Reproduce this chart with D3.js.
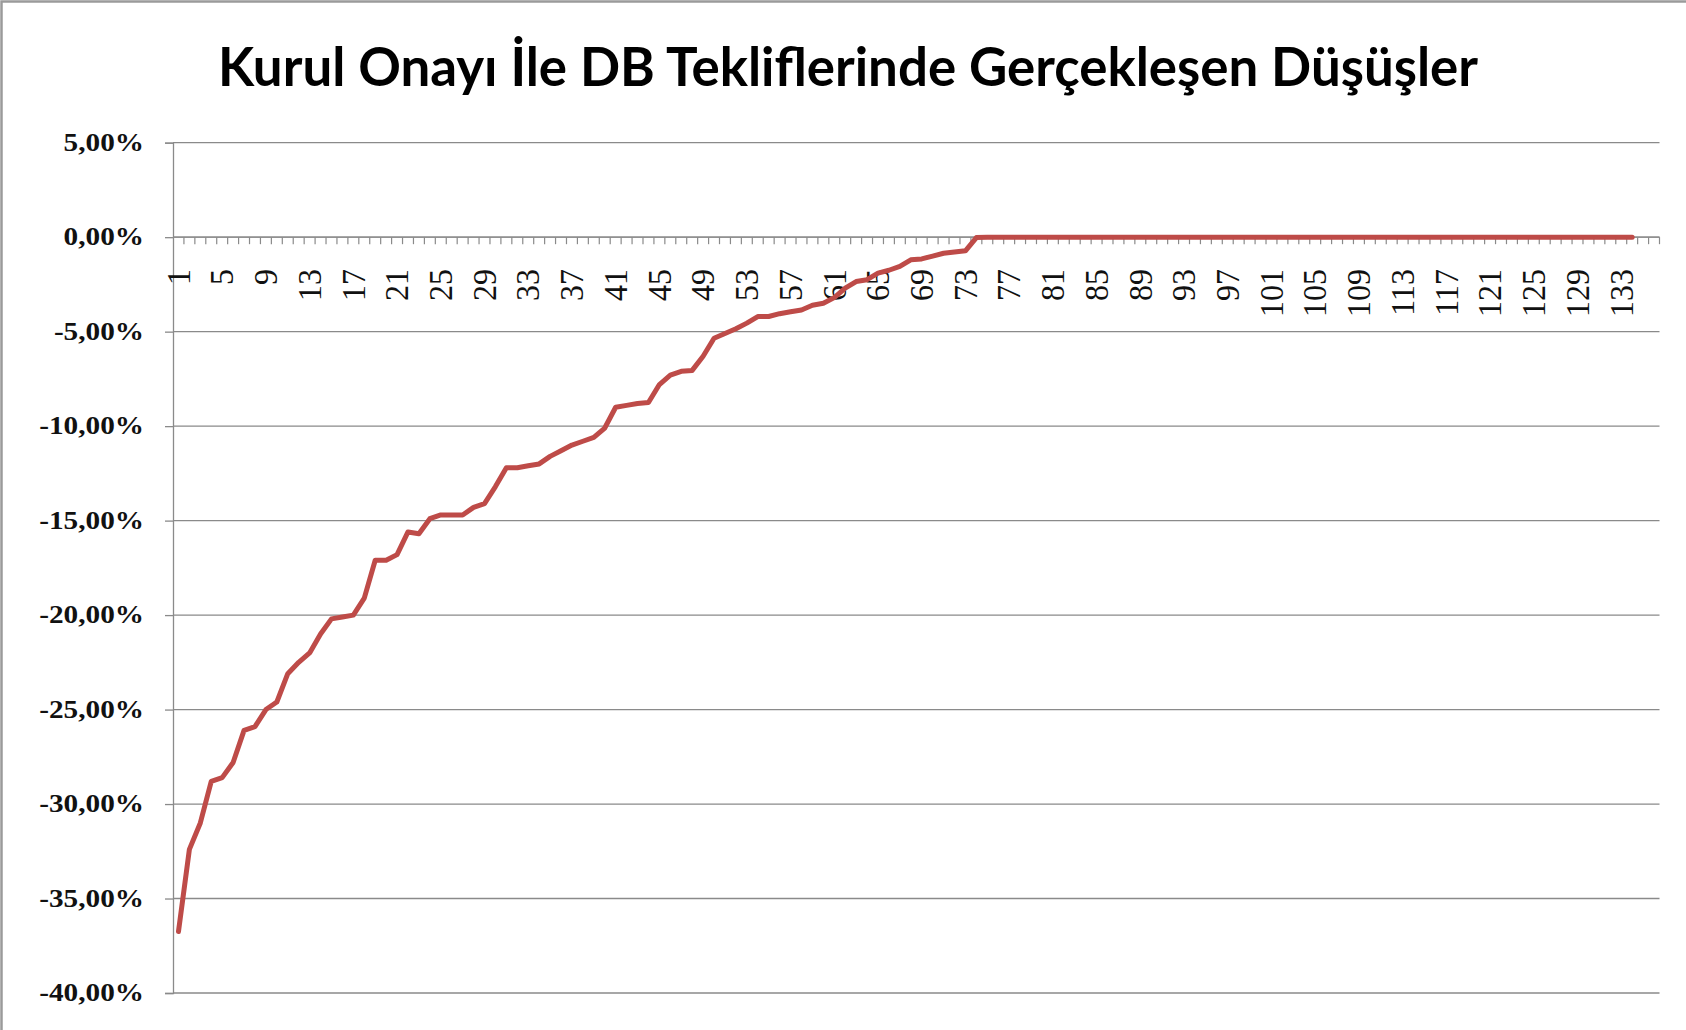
<!DOCTYPE html>
<html>
<head>
<meta charset="utf-8">
<script src="https://cdn.jsdelivr.net/npm/d3@7"></script>
<style>
  body { margin: 0; background: #fff; }
</style>
</head>
<body>
<svg id="chart" width="1686" height="1030"></svg>
<script>
const title = "Kurul Onayı İle DB Tekliflerinde Gerçekleşen Düşüşler";

// 136 category slots on the axis, labels every 4th one
const categories = d3.range(1, 137);
const labelStep = 4;

// percentage drop per offer (data for 1..134)
const values = [
  -36.75, -32.4, -31.0, -28.8, -28.6, -27.8, -26.1, -25.9, -25.0, -24.6,
  -23.1, -22.5, -22.0, -21.0, -20.2, -20.1, -20.0, -19.1, -17.1, -17.1,
  -16.8, -15.6, -15.7, -14.9, -14.7, -14.7, -14.7, -14.3, -14.1, -13.2,
  -12.2, -12.2, -12.1, -12.0, -11.6, -11.3, -11.0, -10.8, -10.6, -10.1,
  -9.0, -8.9, -8.8, -8.75, -7.8, -7.3, -7.1, -7.05, -6.3, -5.35,
  -5.1, -4.85, -4.55, -4.2, -4.2, -4.05, -3.95, -3.85, -3.6, -3.5,
  -3.2, -2.7, -2.35, -2.25, -1.9, -1.75, -1.55, -1.2, -1.15, -1.0,
  -0.85, -0.78, -0.72, -0.02, 0, 0, 0, 0, 0, 0,
  0, 0, 0, 0, 0, 0, 0, 0, 0, 0,
  0, 0, 0, 0, 0, 0, 0, 0, 0, 0,
  0, 0, 0, 0, 0, 0, 0, 0, 0, 0,
  0, 0, 0, 0, 0, 0, 0, 0, 0, 0,
  0, 0, 0, 0, 0, 0, 0, 0, 0, 0,
  0, 0, 0, 0
];

const yTicks = [5, 0, -5, -10, -15, -20, -25, -30, -35, -40];

const trLocale = d3.formatLocale({decimal: ",", thousands: ".", grouping: [3], currency: ["", ""], minus: "-"});
const fmt = trLocale.format(".2f");

let margin = ({top: 142.7, right: 26.5, bottom: 37, left: 173});
let width = 1686;
let height = 1030;

const svg = d3.select("#chart");

svg.append("rect")
    .attr("width", width).attr("height", height)
    .attr("fill", "#fff");

// chart area border (only top/left visible in the crop)
svg.append("rect")
    .attr("x", 1.5).attr("y", 1.5)
    .attr("width", width + 20).attr("height", height + 20)
    .attr("fill", "none")
    .attr("stroke", "#9a9a9a")
    .attr("stroke-width", 2.5);

let x = d3.scaleBand()
    .domain(categories)
    .range([margin.left, width - margin.right])
    .paddingInner(0).paddingOuter(0);

let y = d3.scaleLinear()
    .domain([-40, 5])
    .range([height - margin.bottom, margin.top]);

const x0 = x.range()[0], x1 = x.range()[1];
const bw = x.bandwidth();
const gridColor = "#8a8a8a";

// title
svg.append("text")
    .attr("x", 848)
    .attr("y", 86)
    .attr("text-anchor", "middle")
    .attr("textLength", 1260)
    .attr("lengthAdjust", "spacingAndGlyphs")
    .style("font-family", "Lato, 'Open Sans', sans-serif")
    .style("font-weight", 700)
    .style("font-size", "54px")
    .attr("fill", "#000")
    .text(title);

// horizontal gridlines
svg.append("g")
    .selectAll("line").data(yTicks).enter().append("line")
    .attr("x1", x0).attr("x2", x1)
    .attr("y1", d => y(d)).attr("y2", d => y(d))
    .attr("stroke", gridColor)
    .attr("stroke-width", 1.3);

// y axis line + ticks
let yAxis = g => g
    .attr("transform", `translate(${x0},0)`)
    .call(d3.axisLeft(y).tickValues(yTicks).tickSize(8).tickFormat(""))
    .call(g => g.selectAll("line, path").attr("stroke", gridColor).attr("stroke-width", 1.3));
svg.append("g").call(yAxis);

// y labels
svg.append("g")
    .selectAll("text").data(yTicks).enter().append("text")
    .attr("transform", d => `translate(144,${y(d)}) scale(1.17,1)`)
    .attr("text-anchor", "end")
    .attr("dominant-baseline", "central")
    .style("font-family", "'Liberation Serif', 'Times New Roman', serif")
    .style("font-weight", "bold")
    .style("font-size", "25px")
    .attr("fill", "#111")
    .text(d => fmt(d) + "%");

// x axis at 0 with a tick at every category boundary
const y0 = y(0);
svg.append("line")
    .attr("x1", x0).attr("x2", x1)
    .attr("y1", y0).attr("y2", y0)
    .attr("stroke", gridColor).attr("stroke-width", 1.3);

const boundaries = categories.map(c => x(c)).concat([x1]);
svg.append("g")
    .selectAll("line").data(boundaries.slice(1)).enter().append("line")
    .attr("x1", d => d).attr("x2", d => d)
    .attr("y1", y0).attr("y2", y0 + 7)
    .attr("stroke", gridColor).attr("stroke-width", 1.2);

// x labels (rotated)
svg.append("g")
    .selectAll("text").data(categories.filter(c => (c - 1) % labelStep === 0)).enter().append("text")
    .attr("transform", d => `translate(${x(d) + bw / 2},269) rotate(-90) scale(1,1.05)`)
    .attr("text-anchor", "end")
    .attr("dominant-baseline", "central")
    .style("font-family", "'Liberation Serif', 'Times New Roman', serif")
    .style("font-size", "32px")
    .attr("fill", "#111")
    .text(d => d);

// data line
const line = d3.line()
    .x((d, i) => x(categories[i]) + bw / 2)
    .y(d => y(d));

svg.append("path")
    .datum(values)
    .attr("d", line)
    .attr("fill", "none")
    .attr("stroke", "#BE4B48")
    .attr("stroke-width", 5)
    .attr("stroke-linejoin", "round")
    .attr("stroke-linecap", "round");
</script>
</body>
</html>
